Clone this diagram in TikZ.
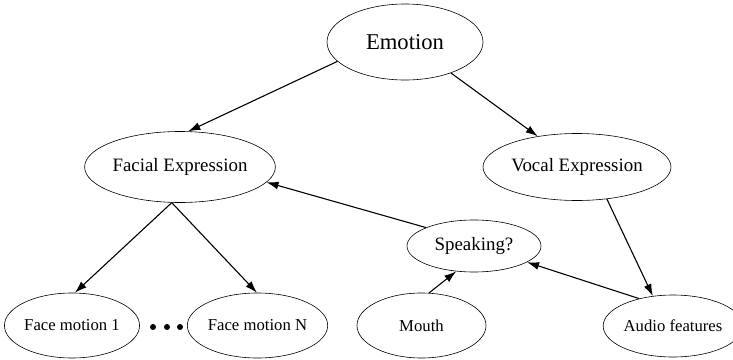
\documentclass[tikz,border=0pt]{standalone}
\usepackage{fontspec}
\setmainfont{Liberation Serif}
\usetikzlibrary{shapes.geometric,arrows.meta}
\tikzset{
  ell/.style={ellipse, draw, line width=0.6pt, inner sep=0pt},
  big/.style={ell, font=\fontsize{22.6}{26}\selectfont},
  mid/.style={ell, font=\fontsize{18.9}{22}\selectfont},
  low/.style={ell, font=\fontsize{16.7}{20}\selectfont},
  edge/.style={line width=1.1pt, -{Latex[length=12pt,width=8pt]}},
  dot/.style={circle, fill=black, inner sep=0pt, minimum size=6pt}
}
\begin{document}
\begin{tikzpicture}[x=1pt,y=-1pt]
\path[use as bounding box] (0,0) rectangle (733,359);
\node[big, minimum width=156pt, minimum height=76pt] (emo) at (405,42) {Emotion};
\node[mid, minimum width=190pt, minimum height=71pt] (fac) at (180,167) {Facial Expression};
\node[mid, minimum width=188pt, minimum height=67pt] (voc) at (577,167) {Vocal Expression};
\node[mid, minimum width=134pt, minimum height=52pt] (spk) at (474,246) {Speaking?};
\node[low, minimum width=120pt, minimum height=65pt] (fm1) at (72,325.5) {Face motion 1};
\node[low, minimum width=129pt, minimum height=65pt] (fmn) at (257.5,325.5) {Face motion N};
\node[low, minimum width=129pt, minimum height=65pt] (mou) at (421.5,325.5) {Mouth};
\node[low, minimum width=120pt, minimum height=62pt] (aud) at (673,326) {Audio features};
\node[dot] (d1) at (153,327) {};
\node[dot] (d2) at (167,327) {};
\node[dot] (d3) at (180,327) {};
\draw[edge] (emo.196.4) -- (fac.77);
\draw[edge] (emo.326.6) -- (voc.142.7);
\draw[edge] (voc.313) -- (aud.124.6);
\draw[edge] (aud.141.8) -- (spk.343.5);
\draw[edge] (mou.77) -- (spk.235.8);
\draw[edge] (fac.257.5) -- (fm1.85);
\draw[edge] (fac.257.5) -- (fmn.91);
\draw[edge] (spk.159.5) -- (fac.350.3);
\end{tikzpicture}
\end{document}
